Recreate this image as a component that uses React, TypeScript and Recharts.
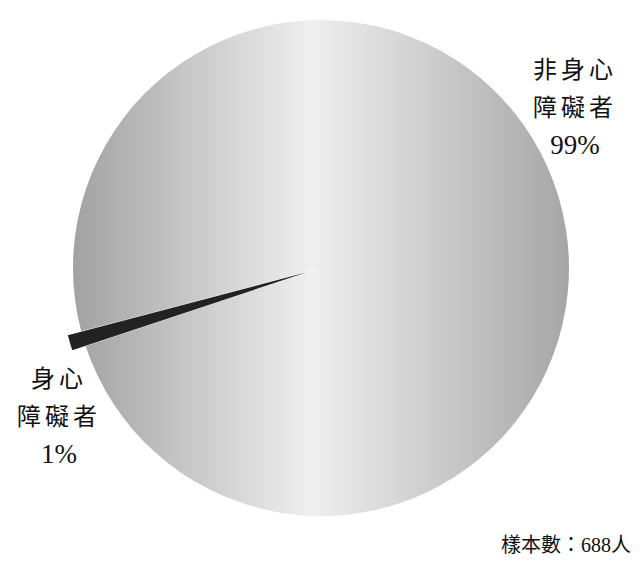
import { PieChart, Pie, Cell } from 'recharts';

// 樣本分布（%）
const groups = ['非身心障礙者', '身心障礙者'];
const shares = [99, 1];
const labelLines = [
    ['非身心', '障礙者'],
    ['身心', '障礙者'],
];
const sampleSize = 688;

const data = groups.map((name, i) => ({ name, value: shares[i] }));

// label centres, relative to the pie centre
const LABEL_OFFSET = [
    { dx: 254, dy: -190 },
    { dx: -262, dy: 119 },
];

const FONT = '"Liberation Serif", "Noto Sans CJK TC", serif';

const renderLabel = (props: any) => {
    const { cx, cy, index, value } = props;
    const off = LABEL_OFFSET[index];
    const x = cx + off.dx;
    const y = cy + off.dy;
    const lines = [...labelLines[index], `${value}%`];
    return (
        <text
            key={`lbl-${index}`}
            x={x}
            y={y}
            textAnchor="middle"
            fill="#111"
            fontSize={24}
            fontFamily={FONT}
        >
            {lines.map((t, i) => (
                <tspan
                    key={i}
                    x={x}
                    dy={i === 0 ? 0 : 38}
                    letterSpacing={i < 2 ? 4 : 0}
                    fontSize={i < 2 ? 24 : 27}
                >
                    {t}
                </tspan>
            ))}
        </text>
    );
};

export default function App() {
    return (
        <div style={{ position: 'absolute', left: 0, top: 0, width: 640, height: 564, background: '#fff' }}>
            <PieChart width={640} height={564}>
                <defs>
                    <linearGradient id="greyFill" x1="0" y1="0" x2="1" y2="0">
                        <stop offset="0%" stopColor="#a2a2a2" />
                        <stop offset="48%" stopColor="#efefef" />
                        <stop offset="100%" stopColor="#a6a6a6" />
                    </linearGradient>
                </defs>
                <Pie
                    data={data}
                    dataKey="value"
                    cx={316}
                    cy={263}
                    outerRadius={248}
                    startAngle={-161.6}
                    endAngle={198.4}
                    stroke="none"
                    label={renderLabel}
                    labelLine={false}
                    isAnimationActive={false}
                >
                    <Cell fill="url(#greyFill)" />
                    <Cell fill="none" />
                </Pie>
                {/* exploded 1% slice */}
                <Pie
                    data={data}
                    dataKey="value"
                    cx={302.6}
                    cy={267}
                    outerRadius={248}
                    startAngle={-161.6}
                    endAngle={198.4}
                    stroke="none"
                    isAnimationActive={false}
                >
                    <Cell fill="none" />
                    <Cell fill="#222222" />
                </Pie>
            </PieChart>
            <div
                style={{
                    position: 'absolute',
                    right: 9,
                    top: 533,
                    fontSize: 20,
                    fontFamily: FONT,
                    color: '#111',
                    lineHeight: '24px',
                }}
            >
                樣本數：{sampleSize}人
            </div>
        </div>
    );
}
